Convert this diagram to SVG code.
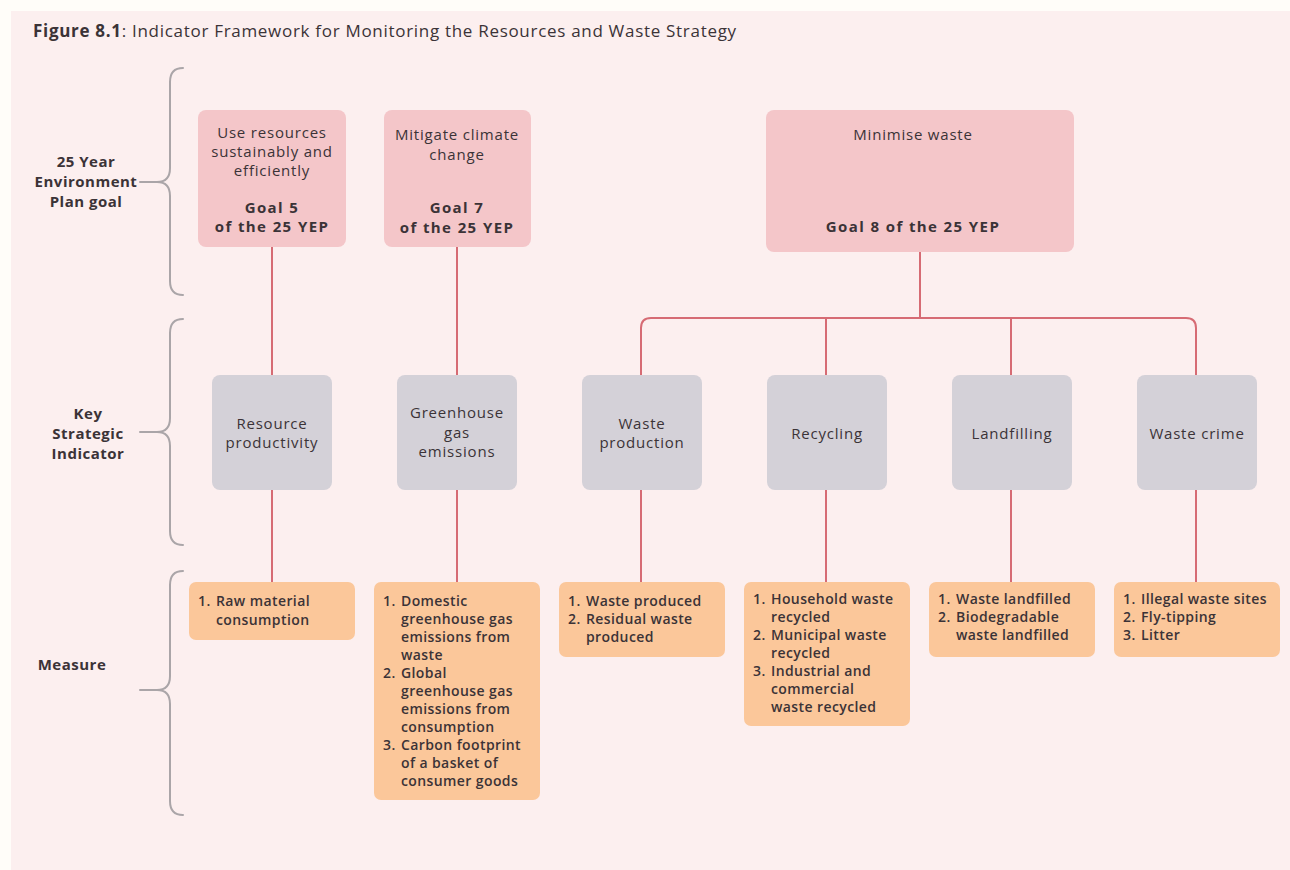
<svg xmlns="http://www.w3.org/2000/svg" width="1290" height="870" viewBox="0 0 1290 870">
<defs>
<style>
text{font-family:"Open Sans","Liberation Sans",sans-serif;fill:#3b3337}
.goal{fill:#f4c6c9}
.ksi{fill:#d4d1d8}
.meas{fill:#fbc79a}
.gt{font-size:15px;letter-spacing:0.8px;text-anchor:middle}
.gb{font-size:15px;font-weight:700;letter-spacing:1.4px;text-anchor:middle}
.kt{font-size:15px;letter-spacing:0.8px;text-anchor:middle}
.mt{font-size:14px;font-weight:600;letter-spacing:0.4px}
.lab{font-size:15px;font-weight:700;letter-spacing:0.5px;text-anchor:middle}
.con{fill:none;stroke:#d66b74;stroke-width:2}
.brace{fill:none;stroke:#aaa5a8;stroke-width:2;stroke-linecap:round}
</style>
</defs>
<rect x="0" y="0" width="1290" height="870" fill="#fffdf9"/>
<rect x="11" y="11" width="1279" height="859" fill="#fcefef"/>
<text x="33" y="37" style="font-size:17px;letter-spacing:0.7px"><tspan font-weight="700">Figure 8.1</tspan>: Indicator Framework for Monitoring the Resources and Waste Strategy</text>

<g id="labels">
<text class="lab" x="86" y="167">25 Year</text>
<text class="lab" x="86" y="187">Environment</text>
<text class="lab" x="86" y="207">Plan goal</text>
<text class="lab" x="88" y="419">Key</text>
<text class="lab" x="88" y="439">Strategic</text>
<text class="lab" x="88" y="459">Indicator</text>
<text class="lab" x="72" y="670">Measure</text>
<path class="brace" d="M183,68 Q170,68 170,82 L170,168 Q170,182 157,182 Q170,182 170,196 L170,281 Q170,295 183,295 M140,182 L157,182"/>
<path class="brace" d="M183,319 Q170,319 170,333 L170,418 Q170,432 157,432 Q170,432 170,446 L170,531 Q170,545 183,545 M140,432 L157,432"/>
<path class="brace" d="M183,571 Q170,571 170,585 L170,676 Q170,690 157,690 Q170,690 170,704 L170,801 Q170,815 183,815 M140,690 L157,690"/>
</g>

<g id="connectors">
<path class="con" d="M272,247 V375 M272,490 V582"/>
<path class="con" d="M457,247 V375 M457,490 V582"/>
<path class="con" d="M920,252 V318"/>
<path class="con" d="M641,375 V328 Q641,318 651,318 H1186 Q1196,318 1196,328 V375"/>
<path class="con" d="M826,318 V375 M1011,318 V375"/>
<path class="con" d="M641,490 V582 M826,490 V582 M1011,490 V582 M1196,490 V582"/>
</g>

<g id="goal5">
<rect class="goal" x="198" y="110" width="148" height="137" rx="8"/>
<text class="gt" x="272" y="138">Use resources</text>
<text class="gt" x="272" y="157">sustainably and</text>
<text class="gt" x="272" y="176">efficiently</text>
<text class="gb" x="272" y="213">Goal 5</text>
<text class="gb" x="272" y="232">of the 25 YEP</text>
</g>
<g id="goal7">
<rect class="goal" x="384" y="110" width="147" height="137" rx="8"/>
<text class="gt" x="457" y="140">Mitigate climate</text>
<text class="gt" x="457" y="160">change</text>
<text class="gb" x="457" y="213">Goal 7</text>
<text class="gb" x="457" y="233">of the 25 YEP</text>
</g>
<g id="goal8">
<rect class="goal" x="766" y="110" width="308" height="142" rx="8"/>
<text class="gt" x="913" y="140">Minimise waste</text>
<text class="gb" x="913" y="232">Goal 8 of the 25 YEP</text>
</g>

<g id="ksi-resource">
<rect class="ksi" x="212" y="375" width="120" height="115" rx="8"/>
<text class="kt" x="272" y="429">Resource</text>
<text class="kt" x="272" y="448">productivity</text>
</g>
<g id="ksi-ghg">
<rect class="ksi" x="397" y="375" width="120" height="115" rx="8"/>
<text class="kt" x="457" y="418">Greenhouse</text>
<text class="kt" x="457" y="438">gas</text>
<text class="kt" x="457" y="457">emissions</text>
</g>
<g id="ksi-waste">
<rect class="ksi" x="582" y="375" width="120" height="115" rx="8"/>
<text class="kt" x="642" y="429">Waste</text>
<text class="kt" x="642" y="448">production</text>
</g>
<g id="ksi-recycling">
<rect class="ksi" x="767" y="375" width="120" height="115" rx="8"/>
<text class="kt" x="827" y="439">Recycling</text>
</g>
<g id="ksi-landfill">
<rect class="ksi" x="952" y="375" width="120" height="115" rx="8"/>
<text class="kt" x="1012" y="439">Landfilling</text>
</g>
<g id="ksi-crime">
<rect class="ksi" x="1137" y="375" width="120" height="115" rx="8"/>
<text class="kt" x="1197" y="439">Waste crime</text>
</g>

<g id="m-resource">
<rect class="meas" x="189" y="582" width="166" height="58" rx="7"/>
<text class="mt" x="198" y="606">1.</text>
<text class="mt" x="216" y="606">Raw material</text>
<text class="mt" x="216" y="625">consumption</text>
</g>
<g id="m-ghg">
<rect class="meas" x="374" y="582" width="166" height="218" rx="7"/>
<text class="mt" x="383" y="606">1.</text>
<text class="mt" x="401" y="606">Domestic</text>
<text class="mt" x="401" y="624">greenhouse gas</text>
<text class="mt" x="401" y="642">emissions from</text>
<text class="mt" x="401" y="660">waste</text>
<text class="mt" x="383" y="678">2.</text>
<text class="mt" x="401" y="678">Global</text>
<text class="mt" x="401" y="696">greenhouse gas</text>
<text class="mt" x="401" y="714">emissions from</text>
<text class="mt" x="401" y="732">consumption</text>
<text class="mt" x="383" y="750">3.</text>
<text class="mt" x="401" y="750">Carbon footprint</text>
<text class="mt" x="401" y="768">of a basket of</text>
<text class="mt" x="401" y="786">consumer goods</text>
</g>
<g id="m-waste">
<rect class="meas" x="559" y="582" width="166" height="75" rx="7"/>
<text class="mt" x="568" y="606">1.</text>
<text class="mt" x="586" y="606">Waste produced</text>
<text class="mt" x="568" y="624">2.</text>
<text class="mt" x="586" y="624">Residual waste</text>
<text class="mt" x="586" y="642">produced</text>
</g>
<g id="m-recycling">
<rect class="meas" x="744" y="582" width="166" height="144" rx="7"/>
<text class="mt" x="753" y="604">1.</text>
<text class="mt" x="771" y="604">Household waste</text>
<text class="mt" x="771" y="622">recycled</text>
<text class="mt" x="753" y="640">2.</text>
<text class="mt" x="771" y="640">Municipal waste</text>
<text class="mt" x="771" y="658">recycled</text>
<text class="mt" x="753" y="676">3.</text>
<text class="mt" x="771" y="676">Industrial and</text>
<text class="mt" x="771" y="694">commercial</text>
<text class="mt" x="771" y="712">waste recycled</text>
</g>
<g id="m-landfill">
<rect class="meas" x="929" y="582" width="166" height="75" rx="7"/>
<text class="mt" x="938" y="604">1.</text>
<text class="mt" x="956" y="604">Waste landfilled</text>
<text class="mt" x="938" y="622">2.</text>
<text class="mt" x="956" y="622">Biodegradable</text>
<text class="mt" x="956" y="640">waste landfilled</text>
</g>
<g id="m-crime">
<rect class="meas" x="1114" y="582" width="166" height="75" rx="7"/>
<text class="mt" x="1123" y="604">1.</text>
<text class="mt" x="1141" y="604">Illegal waste sites</text>
<text class="mt" x="1123" y="622">2.</text>
<text class="mt" x="1141" y="622">Fly-tipping</text>
<text class="mt" x="1123" y="640">3.</text>
<text class="mt" x="1141" y="640">Litter</text>
</g>
</svg>
